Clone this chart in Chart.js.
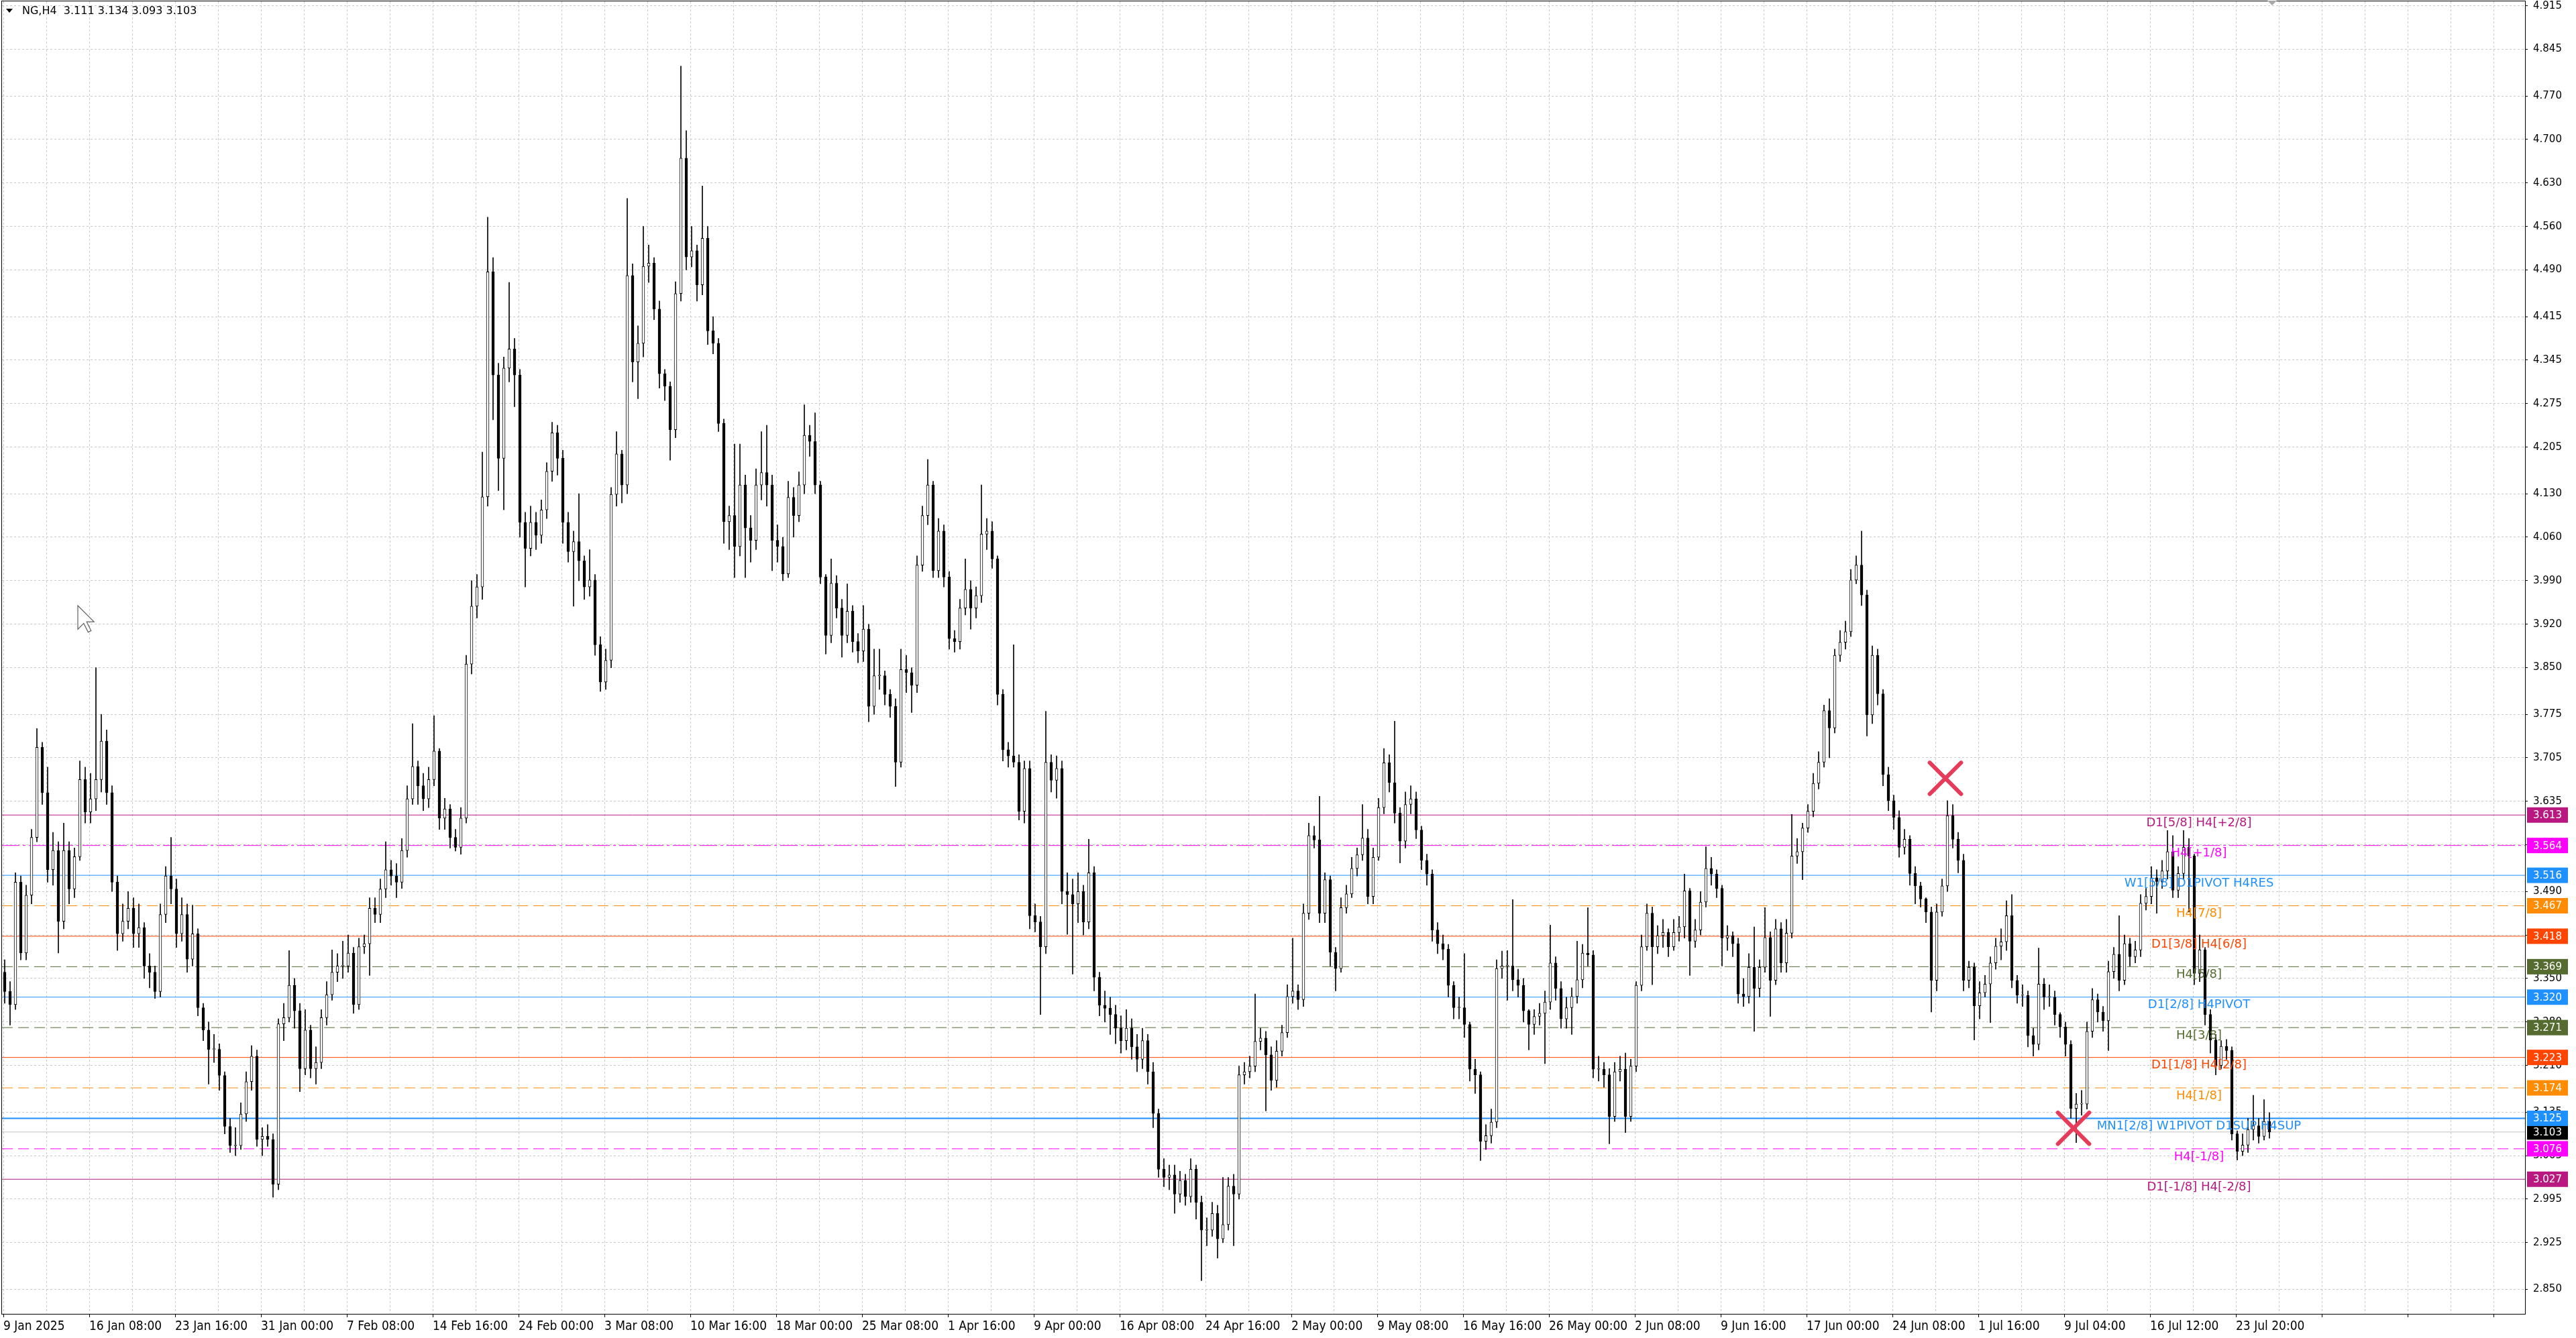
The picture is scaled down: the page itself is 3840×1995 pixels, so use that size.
<!DOCTYPE html>
<html>
<head>
<meta charset="utf-8">
<title>NG,H4</title>
<script src="https://cdn.jsdelivr.net/npm/chart.js@4.4.1/dist/chart.umd.min.js"></script>
<style>
html, body { margin: 0; padding: 0; background: #fff; }
#wrap { width: 3840px; height: 1995px; }
</style>
</head>
<body>
<div id="wrap"><canvas id="myChart" width="3840" height="1995"></canvas></div>
<script>
// NG H4 chart - each candle here is two H4 bars, open = previous close
const firstOpen = 3.360;
const closes = [
  3.329,3.308,3.505,3.391,3.484,3.577,3.722,3.649,3.525,3.556,
  3.442,3.556,3.494,3.546,3.670,3.618,3.639,3.670,3.732,3.649,
  3.505,3.422,3.442,3.463,3.422,3.432,3.370,3.360,3.329,3.453,
  3.515,3.494,3.422,3.453,3.381,3.422,3.303,3.267,3.236,3.236,
  3.194,3.112,3.081,3.081,3.132,3.184,3.225,3.091,3.096,3.091,
  3.019,3.277,3.287,3.339,3.298,3.205,3.267,3.205,3.215,3.287,
  3.324,3.360,3.370,3.370,3.391,3.308,3.401,3.406,3.463,3.453,
  3.494,3.525,3.515,3.505,3.556,3.639,3.691,3.660,3.639,3.670,
  3.716,3.608,3.623,3.577,3.561,3.608,3.856,3.949,3.980,4.125,
  4.487,4.321,4.187,4.332,4.363,4.321,4.084,4.042,4.084,4.063,
  4.104,4.166,4.228,4.187,4.084,4.037,4.053,4.022,3.980,3.991,
  3.887,3.827,3.862,4.129,4.194,4.144,4.481,4.342,4.372,4.496,
  4.501,4.427,4.323,4.303,4.233,4.452,4.670,4.511,4.521,4.466,
  4.541,4.392,4.372,4.243,4.085,4.095,4.045,4.144,4.075,4.055,
  4.144,4.164,4.144,4.055,4.045,4.001,4.124,4.095,4.144,4.224,
  4.214,4.144,3.996,3.902,3.986,3.946,3.902,3.941,3.892,3.877,
  3.912,3.788,3.837,3.837,3.807,3.788,3.698,3.847,3.842,3.822,
  4.015,4.095,4.144,4.006,4.070,3.996,3.897,3.892,3.946,3.976,
  3.946,3.966,4.065,4.070,4.025,3.807,3.718,3.708,3.698,3.619,
  3.688,3.451,3.441,3.401,3.698,3.669,3.688,3.490,3.485,3.470,
  3.490,3.441,3.520,3.352,3.307,3.302,3.292,3.270,3.250,3.270,
  3.240,3.220,3.250,3.200,3.133,3.043,3.030,3.034,3.003,3.025,
  2.999,3.043,2.990,2.945,2.945,2.972,2.931,2.954,3.016,3.003,
  3.195,3.200,3.209,3.249,3.254,3.227,3.186,3.233,3.263,3.321,
  3.330,3.316,3.455,3.580,3.573,3.455,3.509,3.392,3.366,3.464,
  3.486,3.527,3.549,3.576,3.482,3.545,3.625,3.697,3.665,3.616,
  3.571,3.630,3.639,3.589,3.540,3.518,3.428,3.406,3.397,3.339,
  3.303,3.303,3.276,3.204,3.195,3.088,3.097,3.119,3.366,3.370,
  3.370,3.348,3.339,3.298,3.276,3.289,3.294,3.312,3.375,3.334,
  3.285,3.303,3.321,3.348,3.391,3.388,3.204,3.204,3.195,3.128,
  3.200,3.204,3.128,3.209,3.339,3.401,3.455,3.401,3.419,3.424,
  3.401,3.424,3.433,3.491,3.410,3.428,3.473,3.527,3.518,3.495,
  3.415,3.419,3.406,3.325,3.321,3.368,3.334,3.368,3.416,3.347,
  3.430,3.375,3.423,3.547,3.554,3.592,3.619,3.664,3.698,3.781,
  3.753,3.870,3.891,3.908,3.991,4.015,3.967,3.774,3.870,3.808,
  3.678,3.636,3.609,3.561,3.574,3.519,3.499,3.478,3.457,3.347,
  3.457,3.499,3.612,3.574,3.540,3.347,3.368,3.306,3.327,3.341,
  3.375,3.402,3.409,3.451,3.347,3.323,3.323,3.258,3.244,3.341,
  3.320,3.320,3.292,3.272,3.244,3.141,3.148,3.148,3.265,3.316,
  3.296,3.282,3.361,3.389,3.347,3.406,3.385,3.396,3.471,3.482,
  3.512,3.506,3.523,3.554,3.492,3.519,3.561,3.547,3.358,3.396,
  3.292,3.251,3.210,3.241,3.234,3.100,3.072,3.082,3.107,3.113,
  3.096,3.120,3.103
];
const highs = [
  3.380,3.345,3.520,3.515,3.500,3.590,3.752,3.730,3.690,3.585,
  3.570,3.600,3.570,3.560,3.700,3.690,3.680,3.850,3.775,3.750,
  3.660,3.515,3.470,3.490,3.480,3.470,3.440,3.390,3.370,3.470,
  3.530,3.577,3.510,3.480,3.470,3.468,3.430,3.310,3.280,3.260,
  3.245,3.200,3.125,3.110,3.150,3.200,3.242,3.235,3.110,3.115,
  3.100,3.285,3.310,3.395,3.350,3.310,3.300,3.275,3.240,3.300,
  3.345,3.396,3.390,3.410,3.420,3.400,3.415,3.420,3.480,3.480,
  3.510,3.570,3.540,3.535,3.575,3.660,3.760,3.700,3.680,3.690,
  3.773,3.720,3.640,3.630,3.590,3.625,3.870,3.990,4.000,4.197,
  4.575,4.510,4.340,4.350,4.470,4.380,4.330,4.100,4.110,4.100,
  4.120,4.180,4.245,4.240,4.200,4.100,4.070,4.130,4.030,4.040,
  4.000,3.900,3.880,4.140,4.230,4.200,4.605,4.500,4.400,4.560,
  4.530,4.510,4.440,4.330,4.310,4.471,4.818,4.714,4.560,4.530,
  4.625,4.560,4.415,4.380,4.250,4.110,4.210,4.210,4.160,4.095,
  4.170,4.230,4.240,4.160,4.080,4.060,4.150,4.140,4.165,4.273,
  4.240,4.260,4.150,4.000,4.025,3.998,3.960,3.985,3.950,3.905,
  3.950,3.920,3.880,3.880,3.845,3.815,3.800,3.880,3.870,3.850,
  4.030,4.110,4.185,4.150,4.090,4.080,4.005,3.910,3.960,4.025,
  3.990,3.980,4.144,4.090,4.085,4.030,3.815,3.730,3.887,3.710,
  3.700,3.700,3.470,3.450,3.780,3.710,3.708,3.700,3.520,3.510,
  3.520,3.500,3.574,3.530,3.360,3.330,3.320,3.307,3.290,3.300,
  3.285,3.260,3.270,3.260,3.215,3.140,3.060,3.050,3.050,3.040,
  3.035,3.060,3.050,3.000,2.965,2.990,2.985,3.030,3.030,3.035,
  3.209,3.215,3.225,3.325,3.270,3.265,3.240,3.250,3.275,3.340,
  3.415,3.340,3.470,3.600,3.595,3.643,3.520,3.515,3.400,3.480,
  3.500,3.545,3.560,3.630,3.590,3.560,3.640,3.720,3.710,3.764,
  3.625,3.650,3.660,3.650,3.595,3.550,3.525,3.440,3.420,3.405,
  3.345,3.320,3.390,3.280,3.220,3.200,3.115,3.140,3.380,3.394,
  3.395,3.477,3.365,3.350,3.300,3.300,3.310,3.330,3.436,3.385,
  3.345,3.320,3.335,3.410,3.405,3.464,3.395,3.225,3.215,3.205,
  3.215,3.225,3.230,3.220,3.345,3.420,3.470,3.465,3.435,3.445,
  3.430,3.445,3.450,3.518,3.495,3.445,3.490,3.562,3.545,3.525,
  3.500,3.435,3.425,3.415,3.350,3.390,3.433,3.380,3.464,3.425,
  3.445,3.440,3.445,3.614,3.575,3.600,3.630,3.680,3.715,3.790,
  3.800,3.880,3.910,3.925,4.008,4.030,4.070,3.975,3.885,3.880,
  3.815,3.690,3.645,3.620,3.590,3.580,3.530,3.505,3.480,3.465,
  3.470,3.510,3.636,3.630,3.585,3.550,3.378,3.375,3.345,3.355,
  3.385,3.415,3.430,3.475,3.485,3.355,3.340,3.330,3.270,3.399,
  3.350,3.340,3.330,3.295,3.280,3.250,3.165,3.170,3.280,3.334,
  3.325,3.305,3.378,3.400,3.451,3.420,3.415,3.410,3.485,3.495,
  3.530,3.525,3.540,3.588,3.580,3.530,3.588,3.575,3.550,3.420,
  3.400,3.300,3.260,3.250,3.252,3.240,3.105,3.100,3.125,3.162,
  3.125,3.155,3.134
];
const lows = [
  3.310,3.275,3.300,3.380,3.380,3.470,3.570,3.630,3.505,3.500,
  3.391,3.430,3.470,3.480,3.540,3.600,3.600,3.620,3.650,3.630,
  3.490,3.395,3.410,3.430,3.400,3.400,3.350,3.335,3.318,3.320,
  3.440,3.470,3.400,3.410,3.360,3.370,3.290,3.250,3.180,3.215,
  3.170,3.100,3.070,3.065,3.075,3.120,3.170,3.080,3.065,3.080,
  2.998,3.010,3.250,3.280,3.270,3.168,3.195,3.190,3.180,3.205,
  3.275,3.315,3.345,3.350,3.360,3.294,3.300,3.390,3.355,3.440,
  3.440,3.480,3.500,3.480,3.495,3.545,3.630,3.630,3.620,3.625,
  3.660,3.590,3.590,3.560,3.555,3.550,3.600,3.840,3.930,3.960,
  4.110,4.249,4.135,4.104,4.310,4.270,4.060,3.980,4.030,4.040,
  4.050,4.090,4.150,4.160,4.050,4.020,3.949,3.990,3.960,3.965,
  3.870,3.812,3.815,3.850,4.110,4.115,4.130,4.310,4.283,4.350,
  4.470,4.410,4.300,4.280,4.184,4.220,4.440,4.490,4.495,4.440,
  4.450,4.370,4.355,4.230,4.050,4.040,3.995,4.030,3.995,4.020,
  4.040,4.120,4.110,4.006,4.020,3.990,3.995,4.060,4.085,4.130,
  4.190,4.130,3.985,3.872,3.890,3.930,3.867,3.890,3.875,3.858,
  3.860,3.763,3.775,3.815,3.790,3.770,3.659,3.690,3.810,3.778,
  3.810,4.005,4.080,3.995,3.995,3.980,3.880,3.875,3.880,3.935,
  3.912,3.930,3.955,4.040,4.010,3.790,3.700,3.690,3.690,3.605,
  3.600,3.430,3.425,3.292,3.390,3.650,3.640,3.470,3.421,3.357,
  3.440,3.420,3.430,3.330,3.290,3.280,3.260,3.245,3.230,3.235,
  3.220,3.200,3.205,3.180,3.110,3.030,3.015,3.010,2.972,2.990,
  2.985,2.990,2.963,2.864,2.920,2.935,2.900,2.925,2.945,2.920,
  2.995,3.180,3.190,3.200,3.235,3.137,3.170,3.175,3.225,3.255,
  3.310,3.300,3.305,3.445,3.560,3.440,3.440,3.370,3.330,3.360,
  3.455,3.480,3.515,3.540,3.470,3.470,3.540,3.615,3.650,3.600,
  3.536,3.560,3.615,3.575,3.525,3.500,3.410,3.390,3.380,3.320,
  3.285,3.285,3.255,3.185,3.165,3.057,3.075,3.085,3.110,3.350,
  3.315,3.330,3.320,3.280,3.235,3.260,3.275,3.213,3.300,3.315,
  3.270,3.270,3.260,3.310,3.335,3.370,3.190,3.185,3.175,3.084,
  3.120,3.185,3.102,3.120,3.200,3.330,3.395,3.340,3.390,3.400,
  3.385,3.395,3.410,3.415,3.355,3.400,3.420,3.465,3.500,3.480,
  3.370,3.395,3.385,3.310,3.305,3.310,3.265,3.320,3.360,3.289,
  3.340,3.360,3.360,3.415,3.535,3.509,3.585,3.610,3.655,3.690,
  3.705,3.745,3.860,3.880,3.900,3.985,3.950,3.740,3.760,3.790,
  3.660,3.620,3.590,3.545,3.550,3.500,3.470,3.465,3.440,3.296,
  3.330,3.450,3.490,3.560,3.520,3.330,3.335,3.251,3.285,3.320,
  3.279,3.365,3.380,3.395,3.335,3.310,3.305,3.240,3.225,3.235,
  3.300,3.305,3.275,3.255,3.225,3.125,3.086,3.130,3.140,3.255,
  3.280,3.265,3.234,3.350,3.330,3.340,3.370,3.375,3.385,3.460,
  3.470,3.455,3.495,3.510,3.480,3.480,3.510,3.457,3.340,3.345,
  3.275,3.230,3.195,3.205,3.220,3.090,3.058,3.065,3.070,3.090,
  3.085,3.090,3.093
];

// time axis labels, one every 32 H4 bars
const xLabels = [
  '9 Jan 2025','16 Jan 08:00','23 Jan 16:00','31 Jan 00:00','7 Feb 08:00','14 Feb 16:00',
  '24 Feb 00:00','3 Mar 08:00','10 Mar 16:00','18 Mar 00:00','25 Mar 08:00','1 Apr 16:00',
  '9 Apr 00:00','16 Apr 08:00','24 Apr 16:00','2 May 00:00','9 May 08:00','16 May 16:00',
  '26 May 00:00','2 Jun 08:00','9 Jun 16:00','17 Jun 00:00','24 Jun 08:00','1 Jul 16:00',
  '9 Jul 04:00','16 Jul 12:00','23 Jul 20:00'
];
const yTickLabels = [
  '4.915','4.845','4.770','4.700','4.630','4.560','4.490','4.415','4.345','4.275',
  '4.205','4.130','4.060','3.990','3.920','3.850','3.775','3.705','3.635','3.565',
  '3.490','3.420','3.350','3.280','3.210','3.135','3.065','2.995','2.925','2.850'
];

// Murrey / pivot levels
const levelPrices = [3.613, 3.564, 3.516, 3.467, 3.418, 3.369, 3.320, 3.271, 3.223, 3.174, 3.125, 3.076, 3.027];
const levelNames = [
  'D1[5/8] H4[+2/8]', 'H4[+1/8]', 'W1[5/8] D1PIVOT H4RES', 'H4[7/8]', 'D1[3/8] H4[6/8]',
  'H4[5/8]', 'D1[2/8] H4PIVOT', 'H4[3/8]', 'D1[1/8] H4[2/8]', 'H4[1/8]',
  'MN1[2/8] W1PIVOT D1SUP H4SUP', 'H4[-1/8]', 'D1[-1/8] H4[-2/8]'
];
const lastPrice = 3.103;
const headerSymbol = 'NG,H4';
const headerOHLC = ['3.111', '3.134', '3.093', '3.103'];

// the two X marks (x in H4 bars)
const markerBars = [723.75, 771.5];
const markerPrices = [3.672, 3.109];

// styles
const PURPLE = '#B8187F', MAGENTA = '#FF00FF', BLUE = '#1E90FF', ORANGE = '#FF8C00', RED = '#FF4500', OLIVE = '#556B2F';
const levelColors = [PURPLE, MAGENTA, BLUE, ORANGE, RED, OLIVE, BLUE, OLIVE, RED, ORANGE, BLUE, MAGENTA, PURPLE];
const levelDash = [[], [26,5,4,5], [], [16,8], [], [16,8], [], [16,8], [], [16,8], [], [16,8], []];
const levelWidth = [1,1,1,1,1,1,1,1,1,1,2,1,1];

const X_MIN = -0.5, X_MAX = 939.75;
const Y_MIN = 2.8104, Y_MAX = 4.9222;
const LABEL_BAR = 818.25;
const FONT = "'DejaVu Sans', 'Noto Sans', sans-serif";

const opens = closes.map((c, k) => k === 0 ? firstOpen : closes[k - 1]);
const wickData = closes.map((c, k) => ({ x: 2 * k + 0.5, y: [lows[k], highs[k]] }));
const bodyData = closes.map((c, k) => ({ x: 2 * k + 0.5, y: [opens[k], c] }));

const levelSets = levelPrices.map((p, i) => ({
  type: 'line',
  data: [{ x: X_MIN, y: p }, { x: X_MAX, y: p }],
  borderColor: levelColors[i],
  borderWidth: levelWidth[i],
  borderDash: levelDash[i],
  pointRadius: 0,
  order: 5
}));

const priceLine = {
  type: 'line',
  data: [{ x: X_MIN, y: lastPrice }, { x: X_MAX, y: lastPrice }],
  borderColor: '#C0C0C0',
  borderWidth: 1,
  pointRadius: 0,
  order: 6
};

const wicks = {
  type: 'bar',
  data: wickData,
  backgroundColor: '#000',
  borderWidth: 0,
  barThickness: 1,
  grouped: false,
  order: 3
};

const bodies = {
  type: 'bar',
  data: bodyData,
  backgroundColor: (c) => (c.raw && c.raw.y[1] >= c.raw.y[0]) ? '#FFFFFF' : '#000000',
  borderColor: '#000',
  borderWidth: 1,
  borderSkipped: false,
  barThickness: 4,
  minBarLength: 1,
  grouped: false,
  order: 2
};

const markers = {
  type: 'scatter',
  data: markerBars.map((b, i) => ({ x: b, y: markerPrices[i] })),
  pointStyle: 'crossRot',
  pointRadius: 33,
  borderWidth: 6,
  borderColor: '#E63C5A',
  backgroundColor: '#E63C5A',
  order: 1
};
const MARKER_INDEX = levelSets.length + 3;

// level names over the candles
const levelText = {
  id: 'levelText',
  afterDatasetsDraw(chart) {
    const { ctx, scales: { x, y } } = chart;
    ctx.save();
    ctx.font = '18px ' + FONT;
    ctx.textAlign = 'center';
    ctx.textBaseline = 'middle';
    levelPrices.forEach((p, i) => {
      ctx.fillStyle = levelColors[i];
      ctx.fillText(levelNames[i], x.getPixelForValue(LABEL_BAR), y.getPixelForValue(p) + 12);
    });
    ctx.restore();
  }
};

const roundCaps = {
  id: 'roundCaps',
  beforeDatasetDraw(chart, args) {
    if (args.index === MARKER_INDEX) chart.ctx.lineCap = 'round';
  },
  afterDatasetDraw(chart, args) {
    if (args.index === MARKER_INDEX) chart.ctx.lineCap = 'butt';
  }
};

// frame, price boxes, header, cursor
const overlay = {
  id: 'overlay',
  afterDraw(chart) {
    const { ctx, chartArea: a, scales: { y } } = chart;
    ctx.save();
    ctx.strokeStyle = '#000';
    ctx.lineWidth = 1;
    ctx.strokeRect(a.left - 0.5, a.top - 0.5, a.right - a.left + 1, a.bottom - a.top + 1);

    const boxes = levelPrices.map((p, i) => ({ p, c: levelColors[i] }))
      .concat([{ p: lastPrice, c: '#000000' }])
      .sort((m, n) => m.p - n.p);
    ctx.font = '15px ' + FONT;
    ctx.textAlign = 'left';
    ctx.textBaseline = 'middle';
    boxes.forEach(b => {
      const py = y.getPixelForValue(b.p);
      ctx.fillStyle = b.c;
      ctx.fillRect(a.right + 3, py - 11.5, 61, 23);
      ctx.fillStyle = '#fff';
      ctx.fillText(b.p.toFixed(3), a.right + 12, py + 1);
    });

    // header
    ctx.fillStyle = '#000';
    ctx.beginPath();
    ctx.moveTo(9, 13); ctx.lineTo(19, 13); ctx.lineTo(14, 19); ctx.closePath();
    ctx.fill();
    ctx.font = '16px ' + FONT;
    ctx.fillText(headerSymbol + '  ' + headerOHLC.join(' '), 33, 17);

    // chart shift marker
    ctx.fillStyle = '#A8A8A8';
    ctx.beginPath();
    ctx.moveTo(3380, 1); ctx.lineTo(3394, 1); ctx.lineTo(3387, 8); ctx.closePath();
    ctx.fill();

    // mouse pointer
    const s = 2.2, cx = 116, cy = 903;
    const pts = [[0,0],[0,16],[4,12],[7,18],[9,17],[6,11],[11,11]];
    ctx.beginPath();
    pts.forEach((q, i) => i ? ctx.lineTo(cx + q[0] * s, cy + q[1] * s) : ctx.moveTo(cx + q[0] * s, cy + q[1] * s));
    ctx.closePath();
    ctx.fillStyle = '#fff';
    ctx.fill();
    ctx.strokeStyle = '#606060';
    ctx.lineWidth = 1.2;
    ctx.stroke();
    ctx.restore();
  }
};

let chartEl = document.getElementById('myChart');
let myChart = new Chart(chartEl, {
  type: 'bar',
  data: { datasets: [...levelSets, priceLine, wicks, bodies, markers] },
  options: {
    responsive: false,
    animation: false,
    devicePixelRatio: 1,
    events: [],
    layout: { autoPadding: false, padding: { left: 3, top: 2, right: 0, bottom: 0 } },
    plugins: { legend: { display: false }, tooltip: { enabled: false } },
    scales: {
      x: {
        type: 'linear',
        min: X_MIN,
        max: X_MAX,
        offset: false,
        afterBuildTicks: (s) => {
          const t = [];
          for (let b = 0; b <= X_MAX; b += 16) t.push({ value: b });
          s.ticks = t;
        },
        afterFit: (s) => { s.height = 36; s.paddingLeft = 0; s.paddingRight = 0; },
        ticks: {
          autoSkip: false,
          maxRotation: 0,
          minRotation: 0,
          align: 'start',
          padding: 3,
          color: '#000',
          font: { family: "'DejaVu Sans Condensed', 'Liberation Sans Narrow', 'DejaVu Sans'", size: 19 },
          callback: (v) => (v % 32 === 0 && xLabels[v / 32]) ? xLabels[v / 32] : ''
        },
        grid: {
          offset: false,
          color: '#C8C8C8',
          lineWidth: 1,
          drawTicks: true,
          tickLength: 5,
          tickColor: (c) => (c.tick && c.tick.value % 32 === 0) ? '#000' : 'rgba(0,0,0,0)'
        },
        border: { display: false, dash: [3, 3] }
      },
      y: {
        type: 'linear',
        position: 'right',
        min: Y_MIN,
        max: Y_MAX,
        beginAtZero: false,
        afterBuildTicks: (s) => { s.ticks = yTickLabels.map(v => ({ value: parseFloat(v) })); },
        afterFit: (s) => { s.width = 76; s.paddingTop = 0; s.paddingBottom = 0; },
        ticks: {
          autoSkip: false,
          padding: 8,
          color: '#000',
          font: { family: FONT, size: 15 },
          callback: (v) => v.toFixed(3)
        },
        grid: {
          color: '#C8C8C8',
          lineWidth: 1,
          drawTicks: true,
          tickLength: 4,
          tickColor: '#000'
        },
        border: { display: false, dash: [3, 3] }
      }
    }
  },
  plugins: [levelText, roundCaps, overlay]
});
</script>
</body>
</html>
